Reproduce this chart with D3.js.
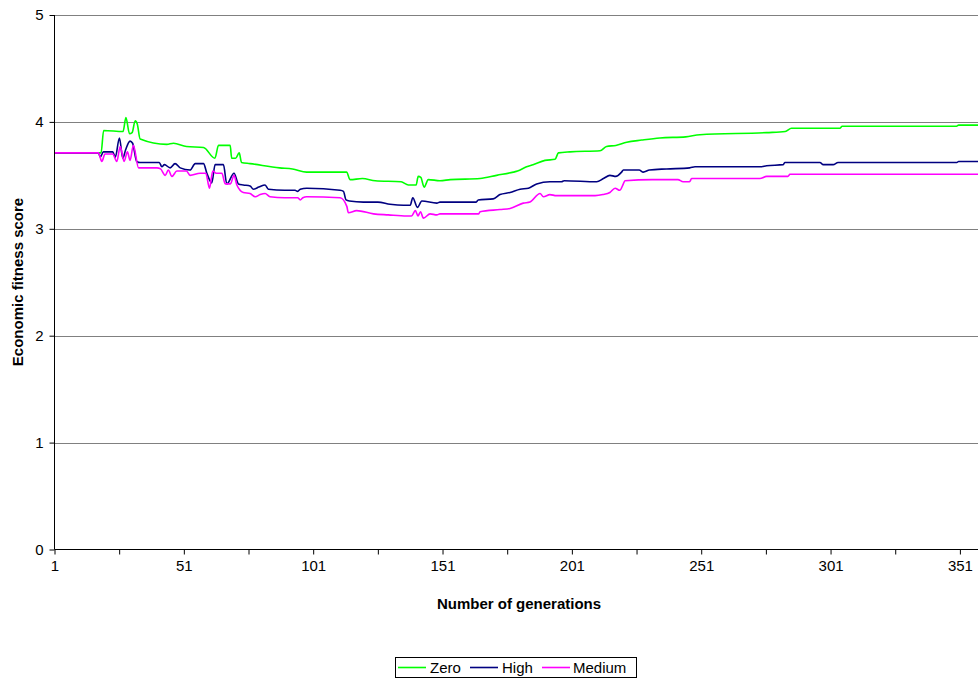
<!DOCTYPE html>
<html>
<head>
<meta charset="utf-8">
<script src="https://cdn.jsdelivr.net/npm/d3@7"></script>
<style>
  html, body { margin: 0; padding: 0; background: #fff; }
  svg { display: block; font-family: "Liberation Sans", Arial, sans-serif; }
</style>
</head>
<body>
<svg id="chart" width="978" height="682"></svg>
<script>
// ---------- DATA ----------
const seriesNames = ["Zero", "High", "Medium"];

const zeroGen = [1,18,19,20,27.5,28.6,30,31,32.2,33,34.1,44.4,47,52,58.6,63,64.4,68.9,69.5,71,72.4,73.3,76.6,88,93,98.5,113.9,115.3,120,125,135,137.8,140.8,141.6,142.6,143.9,145.5,150,154,165.5,171.9,178.4,180,183.5,186,190.6,194.5,195.8,200.3,211.9,214.4,218,222.2,228,235,245,250.5,276.3,283.5,285.9,304.6,305.5,349.7,350.5,358];
const zeroVal = [3.71,3.71,3.71,3.92,3.91,4.04,3.89,3.90,4.01,3.98,3.84,3.79,3.80,3.77,3.76,3.66,3.78,3.78,3.66,3.66,3.71,3.62,3.61,3.57,3.56,3.53,3.53,3.46,3.47,3.45,3.44,3.41,3.41,3.49,3.48,3.39,3.46,3.45,3.46,3.47,3.50,3.53,3.54,3.58,3.60,3.64,3.65,3.71,3.72,3.73,3.77,3.78,3.81,3.83,3.85,3.86,3.88,3.90,3.91,3.94,3.94,3.96,3.96,3.97,3.97];

const highGen = [1,18,18.7,19.9,23.5,24.5,26.1,27.4,28.5,30.2,31.2,32.8,34.1,41.5,42.5,43.5,45.7,47.6,49.6,53.4,55.4,58.6,59.9,61.8,63.1,66.3,67.6,70.4,72.1,74,76.6,77.9,80,82.4,83.7,90,94,95,96,98.5,111.4,112.7,113.7,115,120.4,126,130.7,135.9,138.5,139.5,141.3,143,148.8,150,164,164.8,170.6,173.2,177.1,181,184.2,187.4,192.5,197,198,210.6,213.2,215.7,218,220.2,220.9,227,228.6,231,237.6,246.6,248.6,273.7,276.3,282.7,283.3,296.9,298.2,302,303.9,349.8,350.5,358];
const highVal = [3.71,3.71,3.67,3.72,3.72,3.67,3.85,3.66,3.74,3.82,3.80,3.63,3.62,3.62,3.58,3.60,3.57,3.61,3.57,3.55,3.61,3.61,3.52,3.43,3.60,3.60,3.42,3.52,3.42,3.41,3.40,3.37,3.39,3.41,3.37,3.36,3.36,3.35,3.37,3.38,3.36,3.35,3.27,3.26,3.25,3.25,3.23,3.22,3.22,3.29,3.20,3.26,3.24,3.25,3.25,3.27,3.28,3.32,3.34,3.37,3.38,3.42,3.44,3.44,3.45,3.44,3.47,3.50,3.49,3.53,3.55,3.55,3.53,3.55,3.56,3.57,3.58,3.58,3.59,3.60,3.62,3.62,3.60,3.60,3.62,3.62,3.63,3.63];

const mediumGen = [1,18,19.3,20.5,23.5,25.1,26.4,27.9,29.2,30.2,31.5,33.5,40.6,42,43.8,45,46.4,48.3,52,53.4,57.3,59.5,60.9,62.2,63.5,65.7,67,69,70.4,71.5,74,76.6,78.6,80.5,82.4,84.3,90,95,96,97,98.5,111.4,114,114.6,117.8,124.3,130,137.2,139,140.5,141.5,142.5,143.6,146.2,148.8,150,165,165.5,173.2,177.1,182.2,184.8,188.7,190,192.5,195,210,213,215.7,217.7,219.5,220.9,221.5,232,242,244,246.5,247.3,273.7,276.3,284.5,285.3,358];
const mediumVal = [3.71,3.71,3.63,3.70,3.70,3.63,3.77,3.63,3.72,3.64,3.78,3.57,3.57,3.56,3.50,3.55,3.49,3.54,3.54,3.50,3.52,3.52,3.38,3.54,3.52,3.52,3.42,3.42,3.50,3.41,3.34,3.33,3.30,3.32,3.33,3.30,3.29,3.29,3.27,3.29,3.30,3.29,3.21,3.15,3.17,3.14,3.13,3.12,3.12,3.17,3.12,3.16,3.10,3.14,3.13,3.14,3.14,3.16,3.18,3.19,3.24,3.25,3.33,3.30,3.32,3.31,3.31,3.32,3.34,3.38,3.36,3.42,3.45,3.46,3.46,3.44,3.44,3.47,3.47,3.49,3.49,3.51,3.51];

const xTickValues = [1,26,51,76,101,126,151,176,201,226,251,276,301,326,351];
const xTickLabels = [1,51,101,151,201,251,301,351];
const yTickValues = [0,1,2,3,4,5];

// ---------- LAYOUT ----------
const svg = d3.select("#chart");
const mLeft = 54.5, mRight = 978, mTop = 15, mBottom = 549.5;
const x = d3.scaleLinear().domain([1, 358]).range([mLeft, mRight]);
const y = d3.scaleLinear().domain([0, 5]).range([mBottom, mTop]);
const FONT = "Liberation Sans, Arial, sans-serif";

// gridlines
svg.append("g")
  .selectAll("line")
  .data(yTickValues.filter(d => d > 0))
  .join("line")
  .attr("x1", mLeft).attr("x2", mRight)
  .attr("y1", d => Math.round(y(d)) + 0.5).attr("y2", d => Math.round(y(d)) + 0.5)
  .attr("stroke", "#808080").attr("stroke-width", 1);

// lines
const colors = { Zero: "#00ff00", High: "#000080", Medium: "#ff00ff" };
const series = [
  { name: "Zero", gen: zeroGen, val: zeroVal },
  { name: "High", gen: highGen, val: highVal },
  { name: "Medium", gen: mediumGen, val: mediumVal }
];
const line = d3.line().x(d => x(d[0])).y(d => y(d[1])).curve(d3.curveMonotoneX);
svg.append("g").selectAll("path")
  .data(series)
  .join("path")
  .attr("fill", "none")
  .attr("stroke", d => colors[d.name])
  .attr("stroke-width", 1.6)
  .attr("stroke-linejoin", "round")
  .attr("d", d => line(d.gen.map((g, i) => [g, d.val[i]])));

// y axis
const yAxis = d3.axisLeft(y).tickValues(yTickValues).tickSize(5).tickPadding(6).tickFormat(d3.format("d"));
const gy = svg.append("g").attr("transform", `translate(${mLeft},0)`).call(yAxis);
gy.select(".domain").attr("stroke", "#000").attr("d", `M0,${mTop}V${mBottom}`);
gy.selectAll(".tick line").attr("stroke", "#000");
gy.selectAll(".tick text").attr("font-size", 15).attr("fill", "#000").attr("font-family", FONT);

// x axis
const xAxis = d3.axisBottom(x).tickValues(xTickValues).tickSize(5).tickPadding(6)
  .tickFormat(d => xTickLabels.includes(d) ? String(d) : "");
const gx = svg.append("g").attr("transform", `translate(0,${mBottom})`).call(xAxis);
gx.select(".domain").attr("stroke", "#000").attr("d", `M${mLeft},0H${mRight}`);
gx.selectAll(".tick line").attr("stroke", "#000");
gx.selectAll(".tick text").attr("font-size", 15).attr("fill", "#000").attr("font-family", FONT);

// axis titles
svg.append("text")
  .attr("x", 519).attr("y", 608.5)
  .attr("text-anchor", "middle")
  .attr("font-size", 15).attr("font-weight", "bold").attr("font-family", FONT)
  .text("Number of generations");
svg.append("text")
  .attr("transform", "translate(22.5,282) rotate(-90)")
  .attr("text-anchor", "middle")
  .attr("font-size", 15).attr("font-weight", "bold").attr("font-family", FONT)
  .text("Economic fitness score");

// legend
const lg = svg.append("g");
lg.append("rect").attr("x", 395.5).attr("y", 657.5).attr("width", 241).attr("height", 20)
  .attr("fill", "#fff").attr("stroke", "#000");
const legendItems = [
  { name: "Zero", lx: 398, tx: 430 },
  { name: "High", lx: 470, tx: 502 },
  { name: "Medium", lx: 542, tx: 573 }
];
legendItems.forEach(it => {
  lg.append("line").attr("x1", it.lx).attr("x2", it.lx + 28)
    .attr("y1", 667.5).attr("y2", 667.5)
    .attr("stroke", colors[it.name]).attr("stroke-width", 1.6);
  lg.append("text").attr("x", it.tx).attr("y", 673)
    .attr("font-size", 15).attr("font-family", FONT).text(it.name);
});
</script>
</body>
</html>
